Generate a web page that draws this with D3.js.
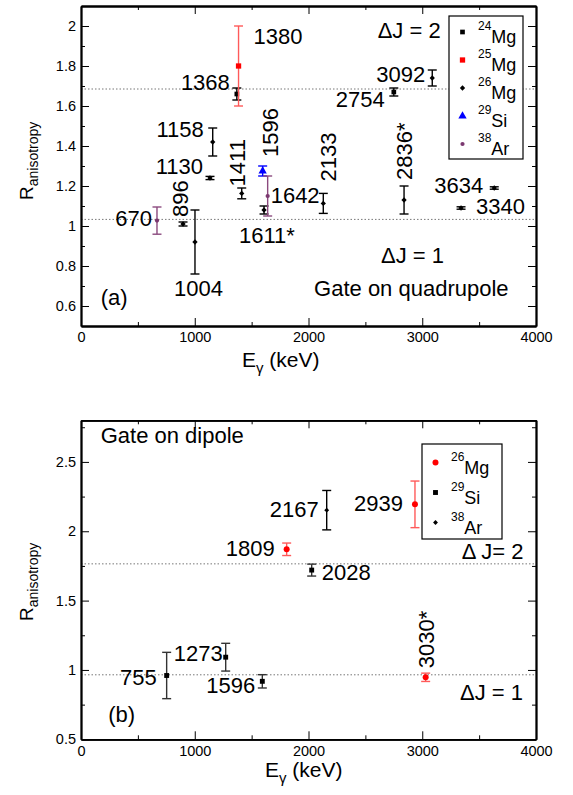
<!DOCTYPE html>
<html>
<head>
<meta charset="utf-8">
<script src="https://cdn.jsdelivr.net/npm/d3@7"></script>
<style>
body { margin: 0; background: #fff; }
svg text { fill: #000; }
</style>
</head>
<body>
<svg id="chart" width="573" height="795"></svg>
<script>
// data: [E (keV), R, error, label]
// panel (a) - gate on quadrupole
const a24Mg = [[1370, 1.66, 0.03, "1368"], [2750, 1.67, 0.02, "2754"]]
const a25Mg = [[1385, 1.80, 0.20, "1380"]]
const a26Mg = [[897, 1.01, 0.01, "896"], [1002, 0.92, 0.16, "1004"], [1134, 1.24, 0.008, "1130"],
  [1158, 1.42, 0.07, "1158"], [1413, 1.163, 0.027, "1411"], [1609, 1.08, 0.02, "1611*"],
  [2130, 1.113, 0.05, "2133"], [2840, 1.13, 0.07, "2836*"], [3088, 1.74, 0.04, "3092"],
  [3341, 1.09, 0.006, "3340"], [3633, 1.19, 0.006, "3634"]]
const a29Si = [[1597, 1.275, 0.025, "1596"]]
const a38Ar = [[668, 1.027, 0.068, "670"], [1641, 1.15, 0.10, "1642"]]
const aRefLines = [1.685, 1.033]

// panel (b) - gate on dipole
const b26Mg = [[1808, 1.87, 0.045, "1809"], [2936, 2.194, 0.168, "2939"], [3030, 0.947, 0.03, "3030*"]]
const b29Si = [[753, 0.96, 0.167, "755"], [1272, 1.092, 0.1, "1273"], [1594, 0.918, 0.048, "1596"], [2028, 1.72, 0.043, "2028"]]
const b38Ar = [[2160, 2.152, 0.142, "2167"]]
const bRefLines = [1.765, 0.965]

// ticks
const xTicks = [0, 1000, 2000, 3000, 4000]
const xMinor = [500, 1500, 2500, 3500]
const yTicksA = [0.6, 0.8, 1, 1.2, 1.4, 1.6, 1.8, 2]
const yMinorA = [0.7, 0.9, 1.1, 1.3, 1.5, 1.7, 1.9]
const yTicksB = [0.5, 1, 1.5, 2, 2.5]
const yMinorB = [0.75, 1.25, 1.75, 2.25, 2.75]

// label placement relative to the point: dx, dy, anchor, rotated
const labelPos = {
  "1368": [-7, -4, "end", 0], "2754": [-9, 15, "end", 0], "1380": [15, -22, "start", 0],
  "896": [5, -7, "start", 1], "1004": [-21, 54, "start", 0], "1130": [-7, -4, "end", 0],
  "1158": [-9, -5, "end", 0], "1411": [3, -7, "start", 1], "1611*": [-25, 33, "start", 0],
  "2133": [13, -22, "start", 1], "2836*": [8, -20, "start", 1], "3092": [-7, 4, "end", 0],
  "3340": [15, 6, "start", 0], "3634": [-11, 5, "end", 0], "1596": [15, -14, "start", 1],
  "670": [-5, 5, "end", 0], "1642": [3, 7, "start", 0],
  "1809": [-12, 7, "end", 0], "2939": [-12, 7, "end", 0], "3030*": [8, -9, "start", 1],
  "755": [-10, 9, "end", 0], "1273": [-3, 4, "end", 0], "1596b": [-7, 12, "end", 0],
  "2028": [10, 10, "start", 0], "2167": [-8, 7, "end", 0]
}

const FONT = "'Liberation Sans', Arimo, Arial, sans-serif"
const svg = d3.select("#chart").attr("font-family", FONT)

const x = d3.scaleLinear().domain([0, 4000]).range([81, 536])

function drawPanel(cfg) {
  const g = svg.append("g")
  const y = d3.scaleLinear().domain(cfg.yDomain).range([cfg.bottom, cfg.top])

  //dotted reference lines
  g.selectAll(".ref").data(cfg.refLines).enter().append("line")
    .attr("x1", x(0)).attr("x2", x(4000))
    .attr("y1", d => y(d)).attr("y2", d => y(d))
    .attr("stroke", "#777").attr("stroke-width", 1).attr("stroke-dasharray", "1.5,2")

  //axes, ticks point inward on all four sides
  const fmt = d => String(d)
  const axes = [
    [d3.axisBottom(x).tickValues(xTicks).tickFormat(fmt).tickPadding(6), `translate(0,${cfg.bottom})`, -8],
    [d3.axisBottom(x).tickValues(xMinor).tickFormat(""), `translate(0,${cfg.bottom})`, -4],
    [d3.axisTop(x).tickValues(xTicks).tickFormat(""), `translate(0,${cfg.top})`, -8],
    [d3.axisTop(x).tickValues(xMinor).tickFormat(""), `translate(0,${cfg.top})`, -4],
    [d3.axisLeft(y).tickValues(cfg.yTicks).tickFormat(fmt).tickPadding(5), `translate(${x(0)},0)`, -8],
    [d3.axisLeft(y).tickValues(cfg.yMinor).tickFormat(""), `translate(${x(0)},0)`, -4],
    [d3.axisRight(y).tickValues(cfg.yTicks).tickFormat(""), `translate(${x(4000)},0)`, -8],
    [d3.axisRight(y).tickValues(cfg.yMinor).tickFormat(""), `translate(${x(4000)},0)`, -4]
  ]
  axes.forEach(([ax, tr, size]) => {
    const a = g.append("g").attr("transform", tr)
      .call(ax.tickSize(size).tickSizeOuter(0))
      .attr("font-size", 14.5)
      .attr("font-family", FONT)
    a.select(".domain").attr("stroke", "#000").attr("stroke-width", 1.8)
    a.selectAll(".tick line").attr("stroke", "#000").attr("stroke-width", 1)
    a.selectAll(".tick text").attr("fill", "#000")
  })

  //series: error bars then markers
  cfg.series.forEach(s => {
    const pts = g.append("g").selectAll("g").data(s.data).enter().append("g")
    pts.append("line")
      .attr("x1", d => x(d[0])).attr("x2", d => x(d[0]))
      .attr("y1", d => y(d[1] - d[2])).attr("y2", d => y(d[1] + d[2]))
      .attr("stroke", s.bar).attr("stroke-width", 1.4)
    ;[-1, 1].forEach(sign => {
      pts.append("line")
        .attr("x1", d => x(d[0]) - 4.5).attr("x2", d => x(d[0]) + 4.5)
        .attr("y1", d => y(d[1] + sign * d[2])).attr("y2", d => y(d[1] + sign * d[2]))
        .attr("stroke", s.bar).attr("stroke-width", 1.4)
    })
    pts.append("path")
      .attr("d", d3.symbol(s.shape, s.size))
      .attr("transform", d => `translate(${x(d[0])},${y(d[1])})` + (s.rot ? " rotate(45)" : ""))
      .attr("fill", s.color)

    //energy labels
    pts.append("text")
      .attr("font-size", 22)
      .each(function(d) {
        const key = (cfg.name === "b" && d[3] === "1596") ? "1596b" : d[3]
        const p = labelPos[key]
        const tx = x(d[0]) + p[0], ty = y(d[1]) + p[1]
        d3.select(this)
          .attr("text-anchor", p[2])
          .attr("transform", `translate(${tx},${ty})` + (p[3] ? " rotate(-90)" : ""))
          .text(d[3])
      })
  })

  //annotations placed in data coordinates
  cfg.notes.forEach(n => {
    g.append("text")
      .attr("x", x(n[1])).attr("y", y(n[2]))
      .attr("text-anchor", n[3])
      .attr("font-size", 22)
      .text(n[0])
  })

  //legend
  const lg = g.append("g")
  lg.append("rect")
    .attr("x", cfg.legend.x).attr("y", cfg.legend.y)
    .attr("width", cfg.legend.w).attr("height", cfg.legend.h)
    .attr("fill", "#fff").attr("stroke", "#000").attr("stroke-width", 1.2)
  cfg.series.forEach((s, i) => {
    const cy = cfg.legend.y + cfg.legend.first + i * cfg.legend.step
    lg.append("path")
      .attr("d", d3.symbol(s.shape, s.size))
      .attr("transform", `translate(${cfg.legend.x + 13.5},${cy})` + (s.rot ? " rotate(45)" : ""))
      .attr("fill", s.color)
    const t = lg.append("text")
      .attr("x", cfg.legend.x + 29).attr("y", cy + 11)
      .attr("font-size", 18)
    t.append("tspan").attr("font-size", 12).attr("dy", -13).text(s.mass)
    t.append("tspan").attr("dy", 13).text(s.elem)
  })

  //axis titles
  const xt = g.append("text")
    .attr("x", cfg.xTitle[0]).attr("y", cfg.xTitle[1])
    .attr("font-size", 21)
  xt.append("tspan").text("E")
  xt.append("tspan").attr("font-size", 15).attr("dy", 6).text("γ")
  xt.append("tspan").attr("dy", -6).text(" (keV)")

  const yt = g.append("text")
    .attr("transform", `translate(33,${cfg.yTitle}) rotate(-90)`)
    .attr("font-size", 19)
  yt.append("tspan").text("R")
  yt.append("tspan").attr("font-size", 14).attr("dy", 5).text("anisotropy")
}

drawPanel({
  name: "a",
  yDomain: [0.5, 2.1], top: 6, bottom: 326,
  yTicks: yTicksA, yMinor: yMinorA, refLines: aRefLines,
  series: [
    {data: a24Mg, shape: d3.symbolSquare, size: 22, color: "#000", bar: "#000", mass: "24", elem: "Mg"},
    {data: a25Mg, shape: d3.symbolSquare, size: 28, color: "#ff0000", bar: "#ff5a5a", mass: "25", elem: "Mg"},
    {data: a26Mg, shape: d3.symbolSquare, size: 14, rot: 1, color: "#000", bar: "#000", mass: "26", elem: "Mg"},
    {data: a29Si, shape: d3.symbolTriangle, size: 30, color: "#0000ff", bar: "#0000ff", mass: "29", elem: "Si"},
    {data: a38Ar, shape: d3.symbolCircle, size: 14, color: "#7b3870", bar: "#8b4a7e", mass: "38", elem: "Ar"}
  ],
  notes: [["ΔJ = 2", 3162, 1.938, "end"], ["ΔJ = 1", 2915, 0.8135, "middle"],
    ["Gate on quadrupole", 2904, 0.6515, "middle"], ["(a)", 173, 0.605, "start"]],
  legend: {x: 449, y: 16, w: 74, h: 143, first: 16, step: 28},
  xTitle: [242, 367], yTitle: 200
})

drawPanel({
  name: "b",
  yDomain: [0.5, 2.8], top: 420.3, bottom: 739.3,
  yTicks: yTicksB, yMinor: yMinorB, refLines: bRefLines,
  series: [
    {data: b26Mg, shape: d3.symbolCircle, size: 28, color: "#ff0000", bar: "#ff5a5a", mass: "26", elem: "Mg"},
    {data: b29Si, shape: d3.symbolSquare, size: 24, color: "#000", bar: "#333", mass: "29", elem: "Si"},
    {data: b38Ar, shape: d3.symbolSquare, size: 12, rot: 1, color: "#000", bar: "#000", mass: "38", elem: "Ar"}
  ],
  notes: [["Gate on dipole", 173, 2.634, "start"], ["Δ J= 2", 3347, 1.798, "start"],
    ["ΔJ = 1", 3332, 0.783, "start"], ["(b)", 240, 0.627, "start"]],
  legend: {x: 422, y: 444, w: 80, h: 95, first: 18.5, step: 30},
  xTitle: [265, 777], yTitle: 621
})
</script>
</body>
</html>
